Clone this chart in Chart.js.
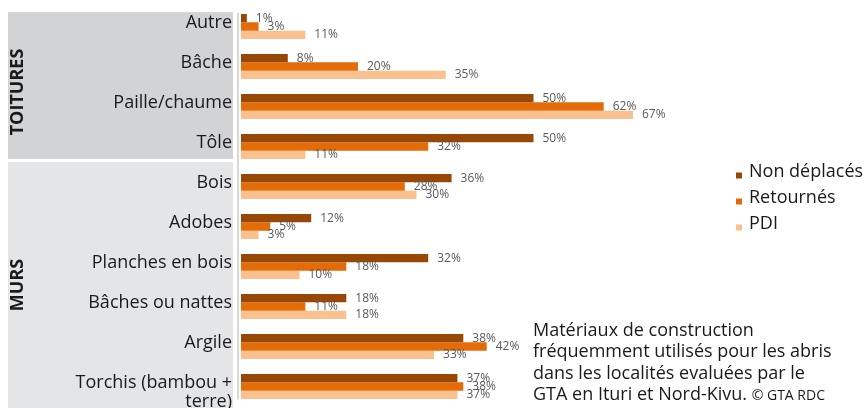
<!DOCTYPE html>
<html>
<head>
<meta charset="utf-8">
<script src="https://cdn.jsdelivr.net/npm/chart.js@4/dist/chart.umd.min.js"></script>
<style>
  html, body { margin: 0; padding: 0; background: #ffffff; }
  #wrap { position: relative; width: 865px; height: 408px; overflow: hidden; }
  #c { position: absolute; left: 0; top: 0; }
  #note {
    position: absolute; left: 533px; top: 319px;
    font-family: "Open Sans", sans-serif; font-size: 18px; line-height: 21.3px;
    color: #1a1a1a; white-space: nowrap;
  }
  #note small { font-size: 14px; }
</style>
</head>
<body>
<div id="wrap">
  <canvas id="c" width="865" height="408"></canvas>
  <div id="note">Matériaux de construction<br>fréquemment utilisés pour les abris<br>dans les localités evaluées par le<br>GTA en Ituri et Nord-Kivu. <small>© GTA RDC</small></div>
</div>
<script>
// ---- data ----
const categories = ["Autre", "Bâche", "Paille/chaume", "Tôle", "Bois", "Adobes", "Planches en bois", "Bâches ou nattes", "Argile", ["", "Torchis (bambou +", "terre)"]];
const nonDeplaces = [1, 8, 50, 50, 36, 12, 32, 18, 38, 37];
const retournes   = [3, 20, 62, 32, 28, 5, 18, 11, 42, 38];
const pdi         = [11, 35, 67, 11, 30, 3, 10, 18, 33, 37];
const seriesNames = ["Non déplacés", "Retournés", "PDI"];
const groups = [
  { name: "TOITURES", from: 0, to: 3 },
  { name: "MURS", from: 4, to: 9 }
];

const colors = ["#974806", "#E36C09", "#FAC08F"];

const panelPlugin = {
  id: "panels",
  beforeDraw(chart) {
    const ctx = chart.ctx;
    const y = chart.scales.y;
    const area = chart.chartArea;
    const step = y.getPixelForValue(1) - y.getPixelForValue(0);
    const fills = ["#d2d3d5", "#e4e5e7"];
    ctx.save();
    groups.forEach((g, i) => {
      const top = i === 0 ? y.getPixelForValue(g.from) - step * 0.36 : y.getPixelForValue(g.from) - step * 0.61;
      const bottom = i === groups.length - 1 ? chart.height : y.getPixelForValue(g.to) + step * 0.31;
      ctx.fillStyle = fills[i];
      ctx.fillRect(8, top, area.left - 8 - 8, bottom - top);
    });
    // axis line
    ctx.strokeStyle = "#d9d9d9";
    ctx.lineWidth = 2;
    ctx.beginPath();
    ctx.moveTo(area.left - 3, y.getPixelForValue(0) - step * 0.34);
    ctx.lineTo(area.left - 3, area.bottom - 7);
    ctx.stroke();
    // group titles
    ctx.fillStyle = "#1a1a1a";
    ctx.font = "bold 18px 'Open Sans', sans-serif";
    ctx.textAlign = "center";
    ctx.textBaseline = "middle";
    const centers = [92, 285];
    groups.forEach((g, i) => {
      ctx.save();
      ctx.translate(18, centers[i]);
      ctx.rotate(-Math.PI / 2);
      ctx.fillText(g.name, 0, 0);
      ctx.restore();
    });
    ctx.restore();
  }
};

const labelPlugin = {
  id: "barLabels",
  afterDatasetsDraw(chart) {
    const ctx = chart.ctx;
    ctx.save();
    ctx.font = "12px 'Open Sans', sans-serif";
    ctx.fillStyle = "#595959";
    ctx.textAlign = "left";
    ctx.textBaseline = "middle";
    chart.data.datasets.forEach((ds, di) => {
      const meta = chart.getDatasetMeta(di);
      meta.data.forEach((el, i) => {
        ctx.fillText(ds.data[i] + "%", el.x + 9, el.y);
      });
    });
    ctx.restore();
  }
};

const legendPlugin = {
  id: "customLegend",
  afterDraw(chart) {
    const ctx = chart.ctx;
    ctx.save();
    ctx.font = "18px 'Open Sans', sans-serif";
    ctx.textAlign = "left";
    ctx.textBaseline = "middle";
    chart.data.datasets.forEach((ds, i) => {
      const cy = 172 + i * 26;
      ctx.fillStyle = ds.backgroundColor;
      ctx.fillRect(736, cy + 0.5, 6, 6);
      ctx.fillStyle = "#1a1a1a";
      ctx.fillText(ds.label, 749, cy);
    });
    ctx.restore();
  }
};

new Chart(document.getElementById("c"), {
  type: "bar",
  data: {
    labels: categories,
    datasets: [
      { label: seriesNames[0], data: nonDeplaces, backgroundColor: colors[0] },
      { label: seriesNames[1], data: retournes, backgroundColor: colors[1] },
      { label: seriesNames[2], data: pdi, backgroundColor: colors[2] }
    ]
  },
  options: {
    indexAxis: "y",
    responsive: false,
    animation: false,
    devicePixelRatio: 1,
    layout: { padding: { top: 6.5, bottom: 1.5, left: 0, right: 156 } },
    datasets: { bar: { categoryPercentage: 0.625, barPercentage: 1.0 } },
    plugins: { legend: { display: false }, tooltip: { enabled: false } },
    scales: {
      x: { type: "linear", min: 0, max: 80, display: false },
      y: {
        type: "category",
        grid: { display: false, drawTicks: false },
        border: { display: false },
        ticks: {
          autoSkip: false,
          padding: 9,
          labelOffset: -4,
          color: "#1a1a1a",
          font: (c) => ({ family: "'Open Sans', sans-serif", size: 18, lineHeight: c.index === 9 ? 1.05 : 1.2 })
        },
        afterFit(scale) {
          scale.width = 241;
          scale.paddingTop = 0;
          scale.paddingBottom = 0;
        }
      }
    }
  },
  plugins: [panelPlugin, labelPlugin, legendPlugin]
});
</script>
</body>
</html>
